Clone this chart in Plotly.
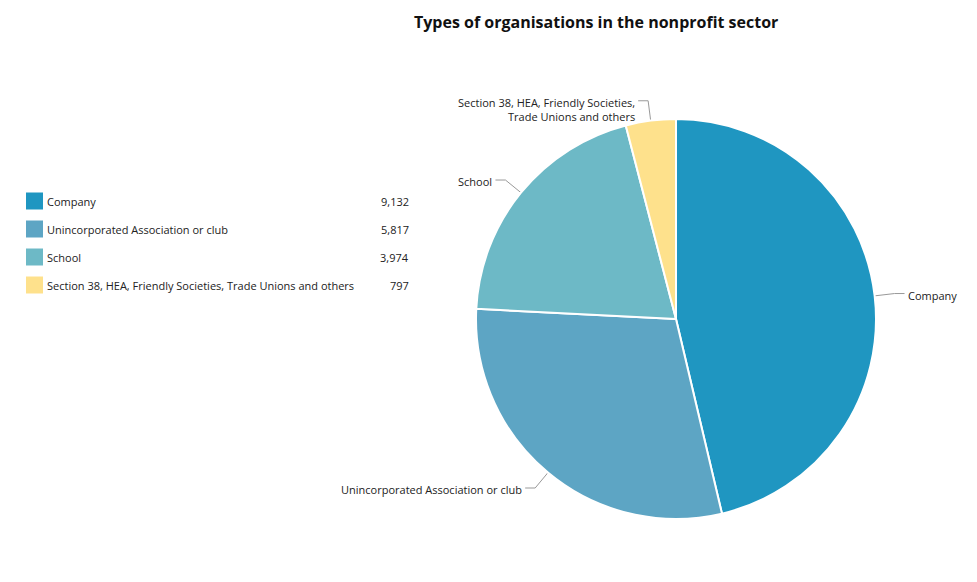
import math
import plotly.graph_objects as go

# data
labels = ["Company", "Unincorporated Association or club", "School",
          "Section 38, HEA, Friendly Societies, Trade Unions and others"]
pie_labels = ["Company", "Unincorporated Association or club", "School",
              "Section 38, HEA, Friendly Societies,<br>Trade Unions and others"]
values = [9132, 5817, 3974, 797]
colors = ["#1F96C1", "#5DA5C4", "#6DB9C6", "#FEE18C"]

W, H = 977, 582
OFF = 8                      # page margin around the plot div
cx, cy, r = 676, 319, 200    # pie centre / radius in page px

fig = go.Figure()

fig.add_trace(go.Pie(
    labels=labels, values=values, sort=False, direction="clockwise",
    marker=dict(colors=colors, line=dict(color="white", width=2)),
    textinfo="none", hoverinfo="label+value", showlegend=False,
    domain=dict(x=[(cx - r - OFF) / W, (cx + r - OFF) / W],
                y=[(H + OFF - cy - r) / H, (H + OFF - cy + r) / H]),
))

# connectors + outside labels, from slice mid angles
total = sum(values)
cum = 0
annotations = []
for lab, v in zip(pie_labels, values):
    mid = (cum + v / 2) / total * 2 * math.pi
    cum += v
    sx, sy = math.sin(mid), -math.cos(mid)
    x0, y0 = cx + r * sx, cy + r * sy
    x1, y1 = cx + (r + 20) * sx, cy + (r + 20) * sy
    side = 1 if sx >= 0 else -1
    x2 = x1 + 10 * side
    fig.add_trace(go.Scatter(
        x=[x0, x1, x2], y=[y0, y1, y1], mode="lines",
        line=dict(color="#999999", width=1), hoverinfo="skip", showlegend=False))
    annotations.append(dict(
        x=x2 + 1 * side, y=y1 - 8, xref="x", yref="y", text=lab,
        showarrow=False, xanchor="left" if side > 0 else "right",
        yanchor="top", align="left" if side > 0 else "right",
        font=dict(size=11, color="#222222")))

# legend drawn by hand: squares, names, values
leg_y = [201 + 28 * i for i in range(len(labels))]
fig.add_trace(go.Scatter(
    x=[34.5] * len(labels), y=leg_y, mode="markers",
    marker=dict(symbol="square", size=17, color=colors),
    hoverinfo="skip", showlegend=False))
for lab, v, y in zip(labels, values, leg_y):
    annotations.append(dict(x=45, y=y, xref="x", yref="y", text=lab,
                            showarrow=False, xanchor="left", yanchor="middle",
                            font=dict(size=11, color="#222222")))
    annotations.append(dict(x=411, y=y, xref="x", yref="y", text=f"{v:,}",
                            showarrow=False, xanchor="right", yanchor="middle",
                            font=dict(size=11, color="#222222")))

annotations.append(dict(x=596, y=22, xref="x", yref="y",
                        text="<b>Types of organisations in the nonprofit sector</b>",
                        showarrow=False, xanchor="center", yanchor="middle",
                        font=dict(size=16, color="#111111")))

fig.update_layout(
    width=W, height=H, margin=dict(l=0, r=0, t=0, b=0),
    paper_bgcolor="white", plot_bgcolor="rgba(0,0,0,0)",
    font=dict(family="Open Sans, sans-serif"),
    xaxis=dict(range=[OFF, W + OFF], visible=False, fixedrange=True),
    yaxis=dict(range=[H + OFF, OFF], visible=False, fixedrange=True),
    annotations=annotations,
)

fig.write_html("out.html")
